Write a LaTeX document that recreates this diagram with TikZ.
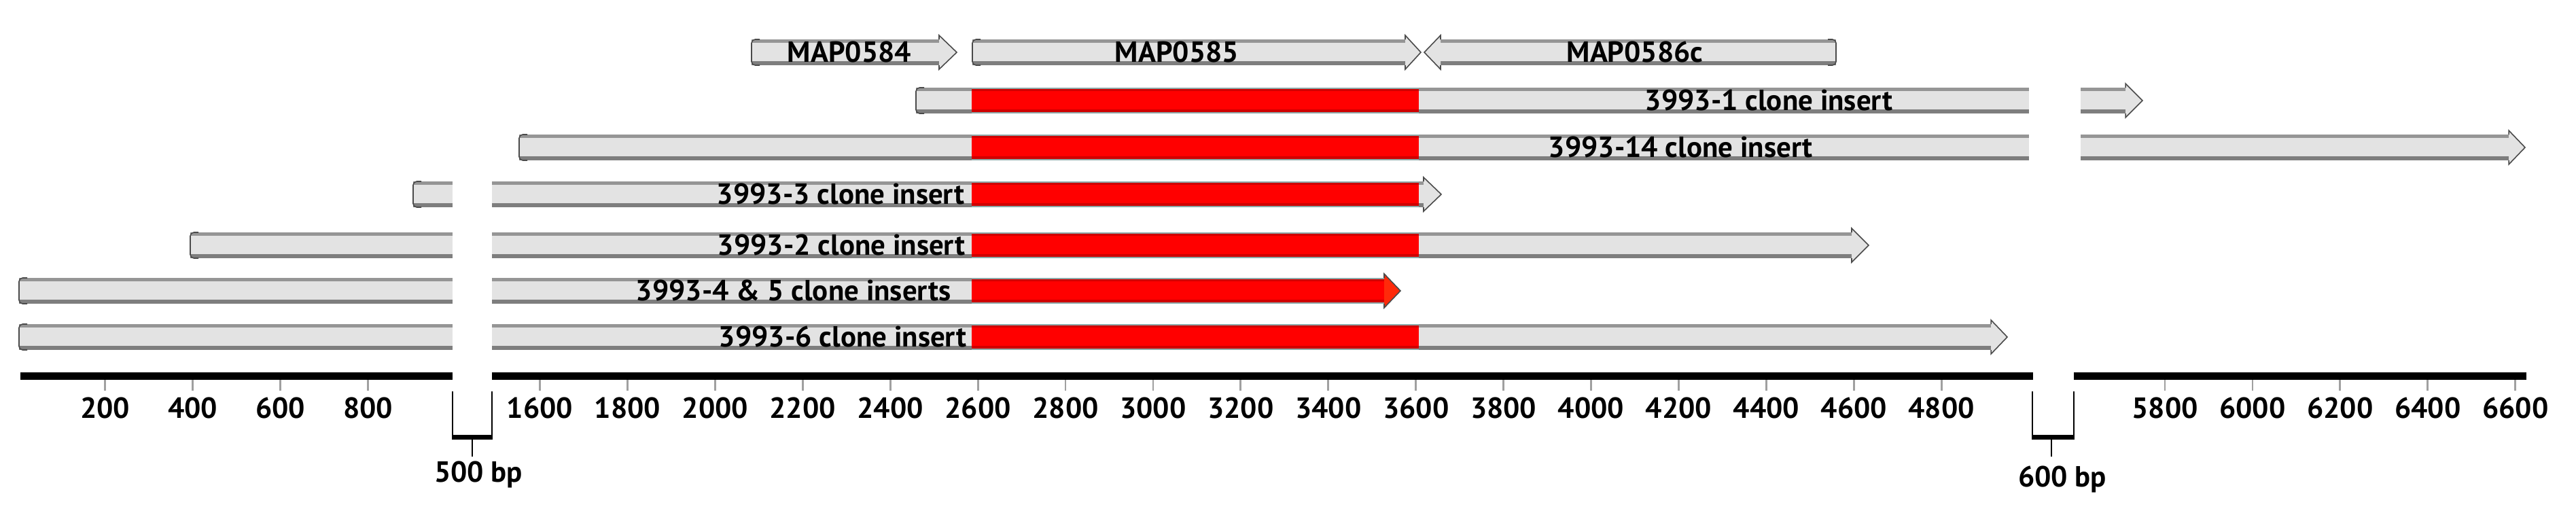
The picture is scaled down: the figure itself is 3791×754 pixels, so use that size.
\documentclass[tikz,border=0pt]{standalone}
\usepackage{fontspec}
\setmainfont{PT Sans}
\usepackage{tikz}
\usetikzlibrary{positioning}

\definecolor{barfill}{HTML}{E3E3E3}
\definecolor{bandtop}{HTML}{959595}
\definecolor{bandbot}{HTML}{7E7E7E}
\definecolor{endline}{HTML}{4A4A4A}
\definecolor{hitred}{HTML}{FF0000}
\definecolor{headred}{HTML}{FF2A0A}
\definecolor{darkred}{HTML}{D00000}
\definecolor{rededge}{HTML}{8CA8A8}
\definecolor{tickgray}{HTML}{A0A0A0}

% gray piece of a bar: y, from x, to x
\newcommand{\piece}[3]{%
  \fill[barfill] (#2,#1-19) rectangle (#3,#1+19);
  \draw[band top] (#2,#1-16.5) -- (#3,#1-16.5);
  \draw[band bot] (#2,#1+16) -- (#3,#1+16);}
% red part: y, from x, to x
\newcommand{\redpiece}[3]{%
  \fill[hitred] (#2,#1-19) rectangle (#3,#1+19);
  \draw[rededge, line width=0.5pt] (#2,#1-18.2) -- (#3,#1-18.2);
  \draw[darkred, line width=0.9pt] (#2,#1-15.5) -- (#3,#1-15.5);
  \draw[darkred, line width=1.1pt] (#2,#1+15) -- (#3,#1+15);
  \draw[rededge, line width=0.5pt] (#2,#1+18.2) -- (#3,#1+18.2);}
\newcommand{\leftcap}[2]{%
  \draw[capline, rounded corners=1.5pt] (#2+12,#1-19) -- (#2,#1-19) -- (#2,#1+19) -- (#2+12,#1+19);}
\newcommand{\rightcap}[2]{%
  \draw[capline, rounded corners=1.5pt] (#2-12,#1-19) -- (#2,#1-19) -- (#2,#1+19) -- (#2-12,#1+19);}
% arrow head: y, base x, tip x, fill
\newcommand{\tip}[4]{%
  \fill[#4] (#2,#1-25) -- (#3,#1) -- (#2,#1+25) -- cycle;
  \draw[capline] (#2,#1-19) -- (#2,#1-25) -- (#3,#1) -- (#2,#1+25) -- (#2,#1+19);}

\begin{document}
\begin{tikzpicture}[
    x=0.01cm, y=-0.01cm,
    lbl/.style={font=\bfseries\fontsize{12.2}{14}\selectfont, inner sep=0pt},
    band top/.style={draw=bandtop, line width=1.4pt},
    band bot/.style={draw=bandbot, line width=1.7pt},
    capline/.style={draw=endline, line width=0.45pt},
    scaleline/.style={line width=3.1pt},
    axtick/.style={draw=tickgray, line width=0.8pt},
    brkline/.style={line width=0.75pt},
    brkbar/.style={line width=1.9pt}
]
\fill[white] (0,0) rectangle (3791,754);
\useasboundingbox (0,0) rectangle (3791,754);

% genes
\piece{77}{1106}{1382} \leftcap{77}{1106} \tip{77}{1382}{1408}{barfill}
\piece{77}{1431}{2068} \leftcap{77}{1431} \tip{77}{2068}{2091}{barfill}
\piece{77}{2120}{2702} \rightcap{77}{2702} \tip{77}{2120}{2096}{barfill}

% clone inserts
\piece{148}{1348}{2986} \leftcap{148}{1348} \redpiece{148}{1430}{2088}
\piece{148}{3062}{3128} \tip{148}{3128}{3153}{barfill}

\piece{217}{764}{2986} \leftcap{217}{764} \redpiece{217}{1430}{2088}
\piece{217}{3062}{3692} \tip{217}{3692}{3716}{barfill}

\piece{286}{608}{666} \leftcap{286}{608}
\piece{286}{724}{2095} \redpiece{286}{1430}{2088} \tip{286}{2095}{2121}{barfill}

\piece{361}{280}{666} \leftcap{361}{280}
\piece{361}{724}{2725} \redpiece{361}{1430}{2088} \tip{361}{2725}{2750}{barfill}

\piece{428}{28}{666} \leftcap{428}{28}
\piece{428}{724}{1430} \redpiece{428}{1430}{2037} \tip{428}{2037}{2061}{headred}

\piece{496}{28}{666} \leftcap{496}{28}
\piece{496}{724}{2930} \redpiece{496}{1430}{2088} \tip{496}{2930}{2954}{barfill}

\node[lbl, anchor=base] (map584) at (1250,91) {MAP0584};
\node[lbl, anchor=base] (map585) at (1732,91) {MAP0585};
\node[lbl, anchor=base] (map586) at (2406,91) {MAP0586c};
\node[lbl, anchor=base] (ins1) at (2603,162) {3993-1 clone insert};
\node[lbl, anchor=base] (ins14) at (2473,231) {3993-14 clone insert};
\node[lbl, anchor=base east] (ins3) at (1420,300) {3993-3 clone insert};
\node[lbl, anchor=base east] (ins2) at (1421,375) {3993-2 clone insert};
\node[lbl, anchor=base east] (ins45) at (1400,442) {3993-4 \& 5 clone inserts};
\node[lbl, anchor=base east] (ins6) at (1423,510) {3993-6 clone insert};

% scale
\draw[scaleline] (30,553.5) -- (666,553.5);
\draw[scaleline] (724,553.5) -- (2992,553.5);
\draw[scaleline] (3052,553.5) -- (3718,553.5);
\foreach \bp in {200,400,600,800}{
  \draw[axtick] ({25.8+0.6446*\bp},559) -- ++(0,16);
  \node[lbl, anchor=base] (t\bp) at ({25.8+0.6446*\bp},615) {\bp};}
\foreach \bp in {1600,1800,...,4800}{
  \draw[axtick] ({794.5+0.6446*(\bp-1600)},559) -- ++(0,16);
  \node[lbl, anchor=base] (t\bp) at ({794.5+0.6446*(\bp-1600)},615) {\bp};}
\foreach \bp in {5800,6000,...,6600}{
  \draw[axtick] ({3186+0.6446*(\bp-5800)},559) -- ++(0,16);
  \node[lbl, anchor=base] (t\bp) at ({3186+0.6446*(\bp-5800)},615) {\bp};}

% breaks
\draw[brkline] (666,576) -- (666,647);
\draw[brkline] (724,576) -- (724,647);
\draw[brkbar] (666,643.5) -- (724,643.5);
\coordinate (b500) at (695,647);
\node[lbl, anchor=base] (gap500) at (704,709) {500 bp};
\draw[brkline] (b500) -- ++(0,25);

\draw[brkline] (2991,576) -- (2991,647);
\draw[brkline] (3052,576) -- (3052,647);
\draw[brkbar] (2991,643.5) -- (3052,643.5);
\coordinate (b600) at (3019,647);
\node[lbl, anchor=base] (gap600) at (3035,716) {600 bp};
\draw[brkline] (b600) -- ++(0,25);
\end{tikzpicture}
\end{document}
